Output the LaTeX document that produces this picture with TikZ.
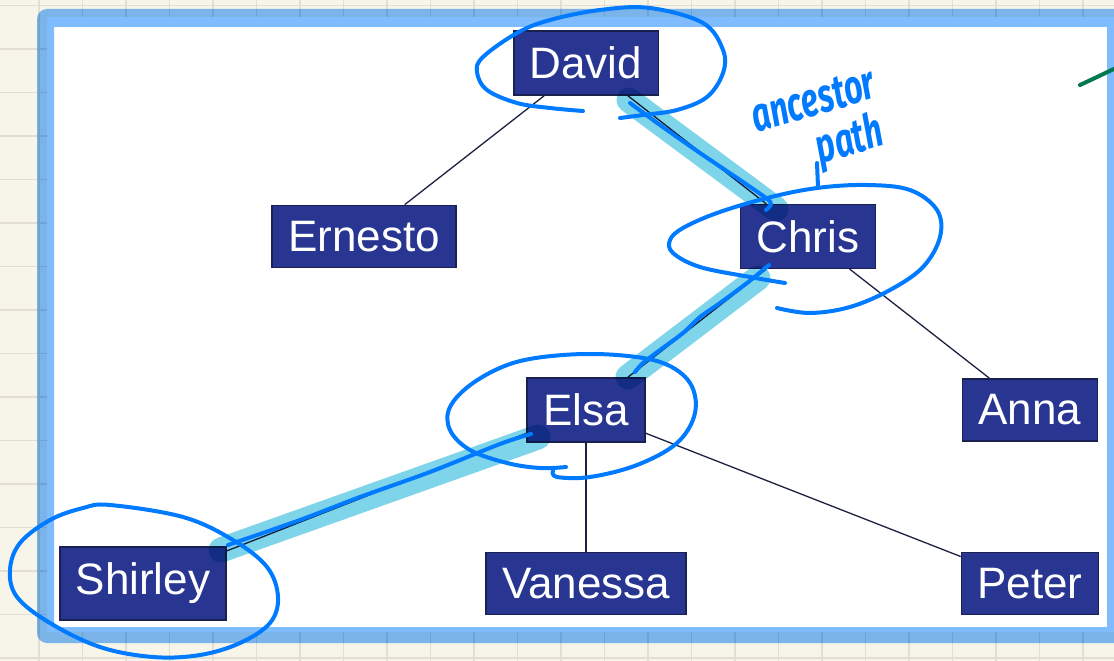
\documentclass[tikz,border=0pt]{standalone}
\usepackage{fontspec}
\setsansfont{Liberation Sans}
\newfontfamily\penfont{Fira Sans}
\usetikzlibrary{positioning}

\definecolor{paper}{RGB}{247,245,233}
\definecolor{gridcol}{RGB}{226,223,210}
\definecolor{frameblue}{RGB}{126,188,255}
\definecolor{boxfill}{RGB}{40,54,146}
\definecolor{boxline}{RGB}{26,32,80}
\definecolor{inkline}{RGB}{28,34,64}
\definecolor{marker}{RGB}{126,212,232}
\definecolor{pen}{RGB}{0,122,255}
\definecolor{greenpen}{RGB}{0,120,80}

\begin{document}
\begin{tikzpicture}[x=1pt,y=-1pt,node distance=173.5pt and 222pt,on grid]
  \tikzstyle{person}=[draw=boxline,fill=boxfill,text=white,line width=1.5pt,
                      inner xsep=16pt,inner ysep=15.75pt,
                      font=\sffamily\fontsize{44}{50}\selectfont]
  \tikzstyle{branch}=[draw=inkline,line width=1.3pt]
  \tikzstyle{marker stroke}=[draw=marker,line width=25pt,line cap=round]
  \tikzstyle{pen stroke}=[draw=pen,line width=4pt,line cap=round,line join=round]
  \tikzstyle{pen note}=[text=pen,inner sep=0pt,rotate=16,xscale=.95,yscale=1.4,
                        transform shape,
                        font=\penfont\bfseries\itshape\fontsize{34}{34}\selectfont]

  \useasboundingbox (0,0) rectangle (1114,661);
  \clip (0,0) rectangle (1114,661);

  % squared paper
  \fill[paper] (0,0) rectangle (1114,661);
  \foreach \k in {0,...,25}
    \draw[gridcol,line width=1.5pt] ({-4.5+43.5*\k},0) -- ({-4.5+43.5*\k},661);
  \foreach \k in {0,...,15}
    \draw[gridcol,line width=1.5pt] (0,{5.5+43.5*\k}) -- (1114,{5.5+43.5*\k});

  % pasted card with its blue frame
  \fill[white] (47,17) rectangle (1130,632);
  \begin{scope}[blend mode=multiply]
    \fill[frameblue,even odd rule] [rounded corners=10pt] (37,9) rectangle (1140,643)
      [sharp corners] (54,27) rectangle (1107,627);
  \end{scope}

  % family tree
  \node[person] (David)   at (586,63)                     {David};
  \node[person] (Ernesto) [below left=of David]           {Ernesto};
  \node[person] (Chris)   [below right=of David]          {Chris};
  \node[person] (Elsa)    [below left=of Chris]           {Elsa};
  \node[person] (Anna)    [below right=of Chris]          {Anna};
  \node[person] (Vanessa) [below=of Elsa]                 {Vanessa};
  \node[person] (Peter)   [below=of Anna]                 {Peter};
  \node[person] (Shirley) [below left=173.5pt and 443pt of Elsa] {Shirley};

  \draw[branch] (David) -- (Ernesto);
  \draw[branch] (David) -- (Chris);
  \draw[branch] (Chris) -- (Elsa);
  \draw[branch] (Chris) -- (Anna);
  \draw[branch] (Elsa)  -- (Shirley);
  \draw[branch] (Elsa)  -- (Vanessa);
  \draw[branch] (Elsa)  -- (Peter);

  % highlighter over the path up the tree
  \begin{scope}[blend mode=multiply]
    \draw[marker stroke] (629,100) -- (776,209);
    \draw[marker stroke] (758,278) -- (628,377);
    \draw[marker stroke] (538,437) -- (221,550);
  \end{scope}

  % pen notes
  \draw[pen stroke] plot[smooth,tension=.6] coordinates {(583,111) (550,108) (517,103)
    (487,90) (477,72) (483,57) (517,33) (550,20) (600,10) (650,8) (703,23) (723,50)
    (723,73) (707,97) (677,110) (643,115) (620,118)};
  \draw[pen stroke] plot[smooth,tension=.6] coordinates {(785,283) (750,277) (700,267)
    (673,253) (670,240) (683,228) (717,213) (767,198) (817,188) (867,185) (910,190)
    (937,210) (940,237) (923,267) (890,290) (850,307) (810,313) (777,308)};
  \draw[pen stroke] plot[smooth,tension=.6] coordinates {(553,471) (557,477) (590,477)
    (637,465) (677,443) (695,413) (690,383) (663,363) (617,355) (563,355) (513,363)
    (473,383) (450,407) (450,430) (470,450) (507,463) (540,468) (566,467)};
  \draw[pen stroke] plot[smooth cycle,tension=.6] coordinates {(110,505) (183,517)
    (233,540) (267,567) (278,597) (270,623) (240,643) (200,655) (153,657) (100,647)
    (50,623) (17,597) (10,570) (20,543) (50,520) (83,508)};

  \draw[pen stroke] plot[smooth] coordinates {(630,103) (660,125) (700,153) (740,180)
    (766,198) (771,204) (766,210)};
  \draw[pen stroke] plot[smooth] coordinates {(769,265) (747,283) (720,303) (700,317)
    (683,333) (660,350) (643,363) (635,372)};
  \draw[pen stroke] plot[smooth] coordinates {(531,434) (500,444) (430,472) (360,497)
    (300,520) (228,545)};

  \node[pen note] (ancestor) at (813,100) {ancestor};
  \node[pen note] (path)     at (850,142) {path};
  \draw[pen stroke] (818,187) -- (817,163);

  \draw[pen stroke,draw=greenpen] (1080,85) .. controls (1095,78) .. (1120,66);
\end{tikzpicture}
\end{document}
